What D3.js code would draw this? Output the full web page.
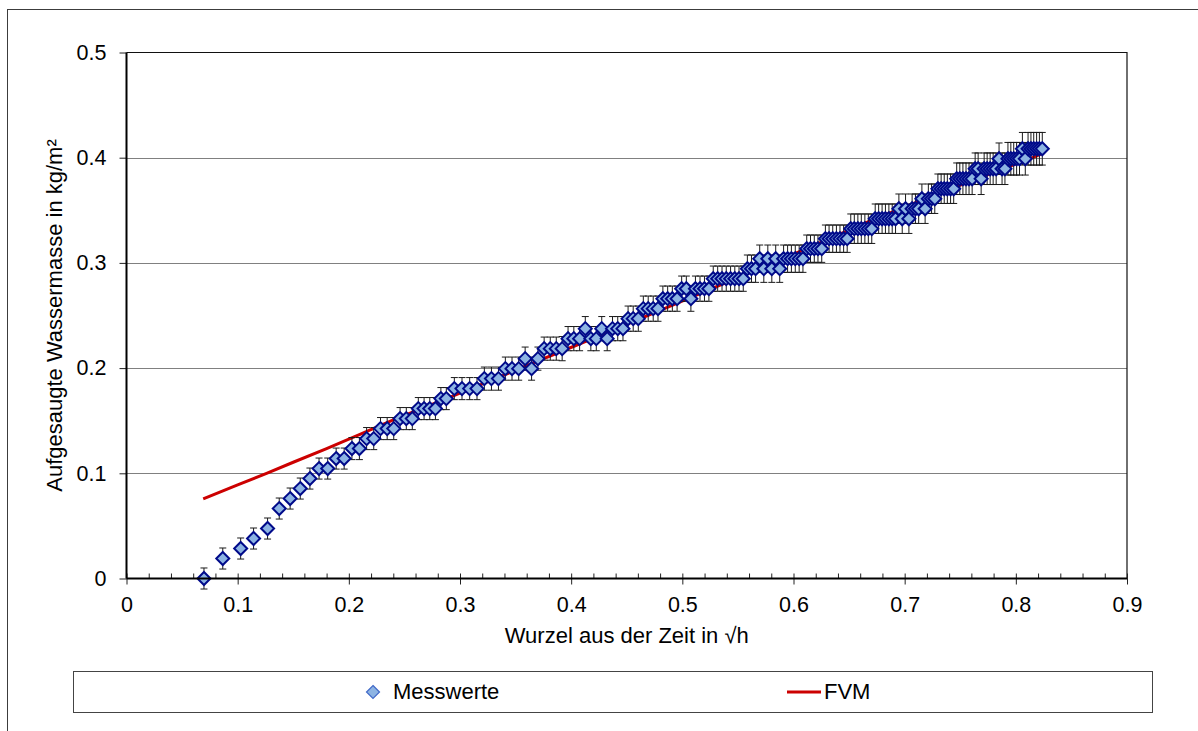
<!DOCTYPE html>
<html>
<head>
<meta charset="utf-8">
<script src="https://d3js.org/d3.v7.min.js"></script>
<style>
  body, html { margin:0; background:#fff; font-family:"Liberation Sans", Arial, sans-serif; }
  text { fill:#000; }
</style>
</head>
<body>
<script>
  // measured points: x = sqrt of time in h, y = absorbed water in kg/m2
  const sqrtHours = [
    .0697,.0866,.1027,.1143,.1269,.1374,.1472,.1563,.1650,.1732,
    .1810,.1886,.1958,.2028,.2095,.2160,.2224,.2285,.2345,.2404,
    .2461,.2517,.2571,.2625,.2677,.2728,.2779,.2828,.2877,.2949,
    .3018,.3087,.3153,.3219,.3283,.3346,.3408,.3468,.3528,.3586,
    .3644,.3701,.3757,.3812,.3866,.3919,.3972,.4024,.4076,.4127,
    .4177,.4226,.4275,.4324,.4372,.4419,.4466,.4512,.4558,.4604,
    .4649,.4693,.4738,.4781,.4825,.4868,.4910,.4953,.4994,.5036,
    .5077,.5118,.5159,.5199,.5239,.5278,.5318,.5357,.5395,.5434,
    .5472,.5510,.5548,.5585,.5622,.5659,.5696,.5733,.5769,.5805,
    .5840,.5876,.5911,.5947,.5981,.6016,.6051,.6085,.6119,.6153,
    .6187,.6220,.6254,.6287,.6320,.6353,.6386,.6418,.6451,.6483,
    .6515,.6547,.6579,.6610,.6642,.6673,.6704,.6735,.6766,.6797,
    .6827,.6858,.6888,.6918,.6948,.6978,.7008,.7038,.7067,.7097,
    .7126,.7155,.7184,.7213,.7242,.7271,.7299,.7328,.7356,.7384,
    .7413,.7441,.7468,.7496,.7524,.7552,.7579,.7607,.7634,.7661,
    .7688,.7715,.7742,.7769,.7796,.7823,.7849,.7876,.7902,.7929,
    .7955,.7981,.8007,.8033,.8059,.8085,.8110,.8136,.8161,.8187,
    .8212,.8238
  ];
  const massValues = [
    0,.019,.0285,.038,.0475,.0665,.076,.0855,.095,.1045,
    .1045,.114,.114,.1235,.1235,.133,.133,.1425,.1425,.1425,
    .152,.152,.152,.1615,.1615,.1615,.1615,.171,.171,.1805,
    .1805,.1805,.1805,.19,.19,.19,.1995,.1995,.1995,.209,
    .1995,.209,.2185,.2185,.2185,.2185,.228,.228,.228,.2375,
    .228,.228,.2375,.228,.2375,.2375,.2375,.247,.247,.247,
    .2565,.2565,.2565,.2565,.266,.266,.266,.266,.2755,.2755,
    .266,.2755,.2755,.2755,.2755,.285,.285,.285,.285,.285,
    .285,.285,.285,.2945,.2945,.2945,.304,.2945,.304,.2945,
    .304,.2945,.304,.304,.304,.304,.304,.304,.3135,.3135,
    .3135,.3135,.3135,.323,.323,.323,.323,.323,.323,.323,
    .3325,.3325,.3325,.3325,.3325,.3325,.3325,.342,.342,.342,
    .342,.342,.342,.342,.3515,.342,.3515,.342,.3515,.3515,
    .3515,.361,.3515,.361,.361,.361,.3705,.3705,.3705,.3705,
    .3705,.3705,.38,.38,.38,.38,.38,.38,.3895,.3895,
    .38,.3895,.3895,.3895,.3895,.3895,.399,.3895,.3895,.399,
    .399,.399,.399,.399,.4085,.399,.4085,.4085,.4085,.4085,
    .4085,.4085
  ];
  const errorValues = [
    .010,.010,.010,.010,.010,.010,.010,.010,.010,.010,
    .010,.010,.010,.0105,.0105,.0105,.0105,.0105,.0105,.0105,
    .0105,.0105,.0105,.0105,.0105,.0105,.0105,.0105,.0105,.0105,
    .0105,.0105,.0105,.011,.011,.011,.011,.011,.011,.011,
    .011,.011,.011,.011,.011,.0115,.0115,.0115,.0115,.0115,
    .0115,.0115,.0115,.0115,.0115,.0115,.0115,.012,.012,.012,
    .012,.012,.012,.012,.012,.012,.012,.012,.012,.012,
    .012,.012,.012,.012,.012,.012,.012,.012,.012,.012,
    .012,.012,.012,.013,.013,.013,.013,.013,.013,.013,
    .013,.013,.013,.013,.013,.013,.013,.013,.013,.013,
    .013,.013,.013,.013,.013,.013,.013,.013,.013,.013,
    .014,.014,.014,.014,.014,.014,.014,.014,.014,.014,
    .014,.014,.014,.014,.014,.014,.014,.014,.014,.014,
    .014,.014,.014,.014,.014,.014,.014,.014,.014,.014,
    .014,.014,.015,.015,.015,.015,.015,.015,.015,.015,
    .015,.015,.015,.015,.015,.015,.015,.015,.015,.0155,
    .0155,.0155,.0155,.0155,.0155,.0155,.0155,.0155,.0155,.0155,
    .0155,.0155
  ];

  // FVM simulation
  const fvmX = [.069,.100,.126,.150,.180,.210,.240,.295,.350,.403,.487,.550,.607,.669,.740,.815,.824];
  const fvmY = [.0757,.089,.100,.1105,.1235,.137,.1507,.174,.198,.221,.258,.286,.3115,.340,.370,.400,.404];

  const xTicks = [0,.1,.2,.3,.4,.5,.6,.7,.8,.9];
  const yTicks = [0,.1,.2,.3,.4,.5];
  const legendLabels = ["Messwerte","FVM"];

  const W = 1198, H = 731;
  const plot = {left:126.5, right:1127, top:52.5, bottom:578.5};

  const x = d3.scaleLinear().domain([0,0.9]).range([plot.left, plot.right]);
  const y = d3.scaleLinear().domain([0,0.5]).range([plot.bottom, plot.top]);

  const svg = d3.select("body").append("svg")
    .attr("width", W).attr("height", H);

  // outer chart border
  svg.append("rect")
    .attr("x", 7.5).attr("y", 9.5).attr("width", 1200).attr("height", 740)
    .attr("fill", "none").attr("stroke", "#3c3c3c").attr("stroke-width", 1);

  // grid
  svg.append("g").selectAll("line")
    .data(yTicks.filter(d => d > 0 && d < 0.5))
    .enter().append("line")
    .attr("x1", plot.left).attr("x2", plot.right)
    .attr("y1", d => Math.round(y(d)) + 0.5).attr("y2", d => Math.round(y(d)) + 0.5)
    .attr("stroke", "#808080").attr("stroke-width", 1);

  // plot area border (top & right)
  svg.append("path")
    .attr("d", `M${plot.left},${plot.top}H${plot.right}V${plot.bottom}`)
    .attr("fill", "none").attr("stroke", "#111").attr("stroke-width", 1.2);

  // FVM line (behind markers)
  const line = d3.line().x(d => x(d[0])).y(d => y(d[1]));
  svg.append("path")
    .datum(d3.zip(fvmX, fvmY))
    .attr("d", line)
    .attr("fill", "none").attr("stroke", "#cc0000").attr("stroke-width", 3);

  const pts = d3.zip(sqrtHours, massValues, errorValues);

  // error bars
  svg.append("g").selectAll("path")
    .data(pts)
    .enter().append("path")
    .attr("d", d => {
      const cx = x(d[0]), y0 = y(d[1] - d[2]), y1 = y(d[1] + d[2]);
      return `M${cx},${y0}V${y1}M${cx-3.5},${y0}H${cx+3.5}M${cx-3.5},${y1}H${cx+3.5}`;
    })
    .attr("fill", "none").attr("stroke", "#1a1a1a").attr("stroke-width", 1);

  const diamond = r => `M0,${-r}L${r},0L0,${r}L${-r},0Z`;

  // markers
  svg.append("g").selectAll("path")
    .data(pts)
    .enter().append("path")
    .attr("d", diamond(6.5))
    .attr("transform", d => `translate(${x(d[0])},${y(d[1])})`)
    .attr("fill", "#8db4e3").attr("stroke", "#000a8a").attr("stroke-width", 2);

  // axes
  const gy = svg.append("g")
    .attr("transform", `translate(${plot.left},0)`)
    .call(d3.axisLeft(y).tickValues(yTicks).tickSize(7).tickPadding(13).tickFormat(d3.format(".1~f")));
  gy.select(".domain").remove();
  gy.selectAll(".tick line").attr("stroke", "#222");

  const gxMinor = svg.append("g")
    .attr("transform", `translate(0,${plot.bottom})`)
    .call(d3.axisBottom(x).tickValues(d3.range(1, 45).filter(i => i % 5).map(i => i * 0.02)).tickSize(-5).tickFormat(""));
  gxMinor.select(".domain").remove();
  gxMinor.selectAll(".tick line").attr("stroke", "#222");

  const gx = svg.append("g")
    .attr("transform", `translate(0,${plot.bottom})`)
    .call(d3.axisBottom(x).tickValues(xTicks).tickSize(6).tickPadding(12.5).tickFormat(d3.format(".1~f")));
  gx.select(".domain").remove();
  gx.selectAll(".tick line").attr("y1", -5).attr("stroke", "#222");

  svg.selectAll(".tick text")
    .attr("font-family", "Liberation Sans, Arial, sans-serif")
    .attr("font-size", 21.5).attr("fill", "#000");

  svg.append("line")
    .attr("x1", plot.left).attr("x2", plot.left)
    .attr("y1", plot.top).attr("y2", plot.bottom)
    .attr("stroke", "#000").attr("stroke-width", 2);
  svg.append("line")
    .attr("x1", plot.left).attr("x2", plot.right)
    .attr("y1", plot.bottom).attr("y2", plot.bottom)
    .attr("stroke", "#000").attr("stroke-width", 2);

  // axis titles
  svg.append("text")
    .attr("x", (plot.left + plot.right) / 2).attr("y", 643)
    .attr("text-anchor", "middle").attr("font-size", 22)
    .text("Wurzel aus der Zeit in √h");

  svg.append("text")
    .attr("transform", `translate(61.5,${(plot.top + plot.bottom) / 2}) rotate(-90)`)
    .attr("text-anchor", "middle").attr("font-size", 22)
    .text("Aufgesaugte Wassermasse in kg/m²");

  // legend
  svg.append("rect")
    .attr("x", 73.5).attr("y", 671.5).attr("width", 1079).attr("height", 41)
    .attr("fill", "#fff").attr("stroke", "#444").attr("stroke-width", 1);

  svg.append("path")
    .attr("d", diamond(6.5))
    .attr("transform", "translate(373,692)")
    .attr("fill", "#8db4e3").attr("stroke", "#4169c8").attr("stroke-width", 1.2);
  svg.append("text")
    .attr("x", 393).attr("y", 698.5).attr("font-size", 22)
    .text(legendLabels[0]);

  svg.append("line")
    .attr("x1", 787).attr("x2", 821).attr("y1", 692).attr("y2", 692)
    .attr("stroke", "#cc0000").attr("stroke-width", 3);
  svg.append("text")
    .attr("x", 824).attr("y", 698.5).attr("font-size", 22)
    .text(legendLabels[1]);
</script>
</body>
</html>
